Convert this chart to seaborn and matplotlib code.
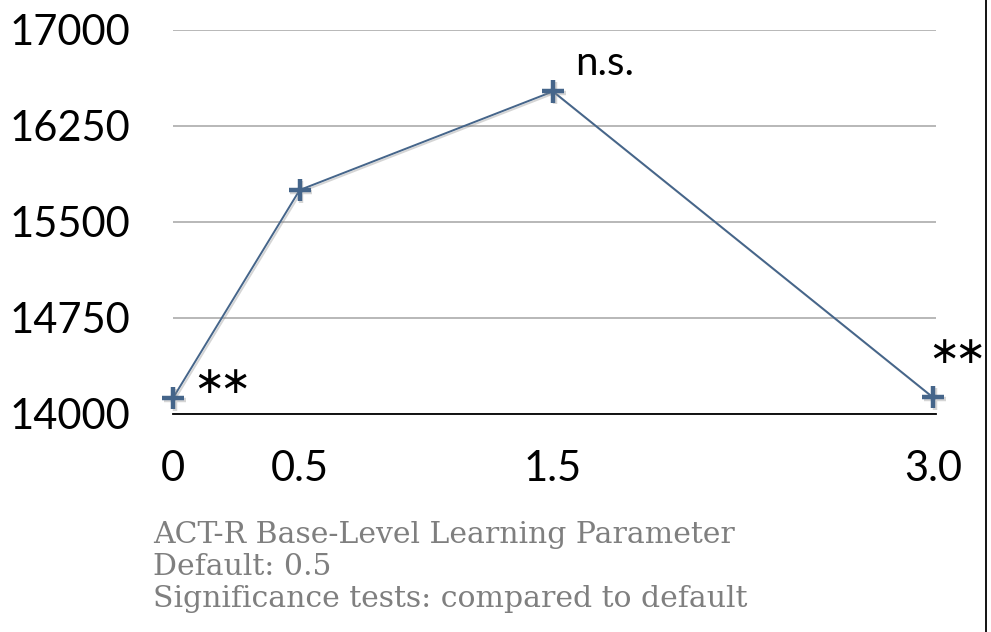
import matplotlib
matplotlib.use("Agg")
import matplotlib.pyplot as plt
import matplotlib.patheffects as pe
from matplotlib.lines import Line2D
import pandas as pd
import seaborn as sns

# ACT-R base-level learning parameter values and the resulting scores
bll_values = [0.0, 0.5, 1.5, 3.0]
scores = [14125, 15750, 16520, 14130]
x_tick_values = [0.0, 0.5, 1.5, 3.0]
x_tick_labels = ["0", "0.5", "1.5", "3.0"]
y_tick_values = [14000, 14750, 15500, 16250, 17000]
y_tick_labels = ["14000", "14750", "15500", "16250", "17000"]
footnote_lines = [
    "ACT-R Base-Level Learning Parameter",
    "Default: 0.5",
    "Significance tests: compared to default",
]

df = pd.DataFrame({"bll": bll_values, "score": scores})

sns.set_theme(style="white")
plt.rcParams["font.family"] = ["Lato", "DejaVu Sans"]
plt.rcParams["mathtext.fontset"] = "dejavusans"
plt.rcParams["text.color"] = "black"

W, H = 991, 632
fig = plt.figure(figsize=(W / 100, H / 100), dpi=100)
ax = fig.add_axes([173 / W, (H - 414) / H, (936 - 173) / W, (414 - 30) / H])

line_color = "#45658a"
shadow = [pe.SimpleLineShadow(offset=(1.2, -1.2), shadow_color="#888888", alpha=0.35), pe.Normal()]

sns.lineplot(
    data=df, x="bll", y="score", ax=ax,
    color=line_color, linewidth=1.4, marker="+", markersize=16,
    markeredgewidth=3.2, markeredgecolor=line_color,
    sort=False, clip_on=False, path_effects=shadow,
)

ax.set_xlim(0, 3.0 + 3 / 253.3)
ax.set_ylim(14000, 17000)

ax.set_yticks(y_tick_values)
ax.set_yticklabels(y_tick_labels)
ax.set_xticks(x_tick_values)
ax.set_xticklabels(x_tick_labels)
ax.tick_params(axis="both", length=0, labelsize=30, colors="black")
ax.tick_params(axis="y", pad=31)
ax.tick_params(axis="x", pad=26)

ax.set_xlabel("")
ax.set_ylabel("")

# horizontal grid lines only, bottom spine as baseline
ax.yaxis.grid(True, color="#ababab", linewidth=1.2)
ax.xaxis.grid(False)
for side in ["top", "right", "left"]:
    ax.spines[side].set_visible(False)
ax.spines["bottom"].set_color("black")
ax.spines["bottom"].set_linewidth(1.3)
ax.spines["bottom"].set_zorder(3)

# significance annotations: two tightly kerned asterisks
stars = r"$\ast\!\!\ast$"
ax.text(0.186, 14250, stars, fontsize=27, ha="center", va="center", color="black")
ax.text(3.088, 14484, stars, fontsize=27, ha="center", va="center", color="black",
        clip_on=False)
ax.text(1.587, 16648, "n.s.", fontsize=29, ha="left", va="baseline", color="black")

# footnote block
baselines = [543, 575, 607]
for txt, yb in zip(footnote_lines, baselines):
    fig.text(153 / W, (H - yb) / H, txt, fontsize=21.5, color="#7f7f7f",
             family=["DejaVu Serif"], ha="left", va="baseline")

# right border rule
fig.add_artist(Line2D([985.5 / W, 985.5 / W], [0, 1], transform=fig.transFigure,
                      color="black", linewidth=1.3))

fig.savefig("out.png", dpi=100)
